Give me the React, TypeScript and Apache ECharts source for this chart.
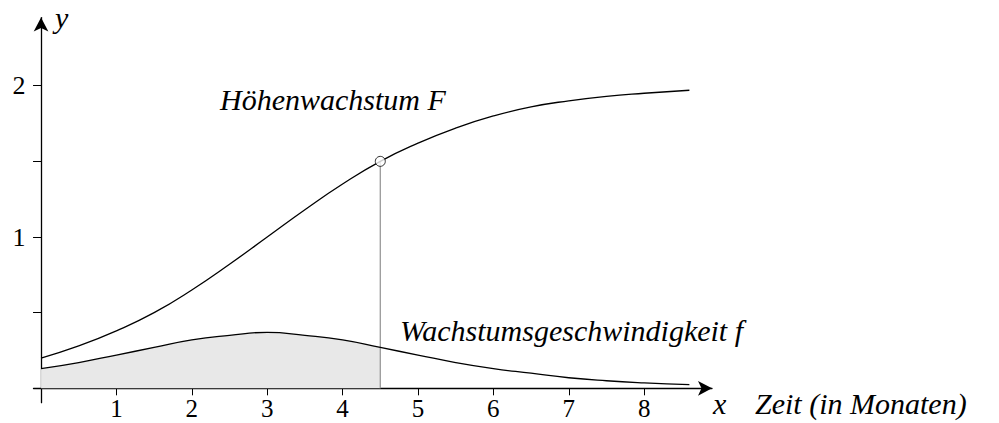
import React, { useEffect, useRef } from "react";
import * as echarts from "echarts";

// Months on the time axis at which both curves were read
const months = [0, 0.5, 1, 1.5, 2, 2.5, 3, 3.5, 4, 4.5, 5, 5.5, 6, 6.5, 7, 7.5, 8, 8.6];
// Height growth F (cumulative)
const heightGrowth = [0.2, 0.28, 0.38, 0.5, 0.65, 0.82, 1.0, 1.18, 1.35, 1.5, 1.62, 1.72, 1.8, 1.86, 1.9, 1.93, 1.95, 1.97];
// Growth speed f
const growthRate = [0.13, 0.17, 0.22, 0.27, 0.32, 0.35, 0.37, 0.35, 0.32, 0.27, 0.22, 0.17, 0.13, 0.1, 0.07, 0.05, 0.036, 0.024];
// Month up to which the area under f is shaded
const markedMonth = 4.5;

const xTickValues = [1, 2, 3, 4, 5, 6, 7, 8];
const yTickValues = [0.5, 1, 1.5, 2];
const yLabelValues = [1, 2];

const SERIF = "Liberation Serif";

const label = (text: string, left: number, top: number) => ({
  type: "text",
  left,
  top,
  style: {
    text,
    fontFamily: SERIF,
    fontStyle: "italic",
    fontSize: 30,
    fill: "#000",
  },
});

export default function App() {
  const ref = useRef<HTMLDivElement>(null);

  useEffect(() => {
    if (!ref.current) return;
    const chart = echarts.init(ref.current, null, { renderer: "svg" });

    const fLine = months.map((m, i) => [m, growthRate[i]]);
    const FLine = months.map((m, i) => [m, heightGrowth[i]]);
    const shaded = months
      .map((m, i) => [m, growthRate[i]])
      .filter((p) => p[0] <= markedMonth);
    const markedF = heightGrowth[months.indexOf(markedMonth)];

    chart.setOption({
      animation: false,
      grid: {
        left: 33.5,
        right: 287,
        top: 17.6,
        bottom: 20.3,
        containLabel: false,
        outerBoundsMode: "none",
      },
      xAxis: {
        type: "value",
        min: -0.1,
        max: 8.9,
        splitLine: { show: false },
        axisLine: {
          show: true,
          onZero: true,
          symbol: ["none", "arrow"],
          symbolSize: [11, 14],
          lineStyle: { color: "#000", width: 1.3 },
        },
        axisTick: {
          show: true,
          customValues: xTickValues,
          length: 7,
          lineStyle: { color: "#000", width: 1 },
        },
        axisLabel: {
          show: true,
          customValues: xTickValues,
          margin: -7,
          color: "#000",
          fontFamily: SERIF,
          fontSize: 25,
          lineHeight: 25,
        },
      },
      yAxis: {
        type: "value",
        min: -0.095,
        max: 2.45,
        splitLine: { show: false },
        axisLine: {
          show: true,
          onZero: true,
          symbol: ["none", "arrow"],
          symbolSize: [11, 14],
          lineStyle: { color: "#000", width: 1.3 },
        },
        axisTick: {
          show: true,
          customValues: yTickValues,
          length: 8,
          lineStyle: { color: "#000", width: 1 },
        },
        axisLabel: {
          show: true,
          customValues: yLabelValues,
          margin: 8,
          color: "#000",
          fontFamily: SERIF,
          fontSize: 26,
        },
      },
      series: [
        {
          type: "line",
          data: shaded,
          smooth: true,
          symbol: "none",
          lineStyle: { width: 0, opacity: 0 },
          areaStyle: { color: "#e8e8e8", opacity: 1 },
          z: 1,
        },
        {
          type: "line",
          data: fLine,
          smooth: true,
          symbol: "none",
          lineStyle: { color: "#000", width: 1.3 },
          z: 3,
        },
        {
          type: "line",
          data: FLine,
          smooth: true,
          symbol: "none",
          lineStyle: { color: "#000", width: 1.3 },
          z: 3,
        },
        {
          type: "line",
          data: [
            [markedMonth, 0],
            [markedMonth, markedF],
          ],
          symbol: "none",
          lineStyle: { color: "#999", width: 1.3 },
          z: 2,
        },
        {
          type: "scatter",
          data: [[markedMonth, markedF]],
          symbol: "circle",
          symbolSize: 10,
          itemStyle: { color: "#fff", borderColor: "#000", borderWidth: 1 },
          z: 5,
        },
      ],
      graphic: [
        label("y", 55, 2),
        label("Höhenwachstum F", 220, 84),
        label("Wachstumsgeschwindigkeit f", 400, 315),
        label("x", 713, 388),
        label("Zeit (in Monaten)", 755, 388),
      ],
    });

    return () => chart.dispose();
  }, []);

  return (
    <div
      ref={ref}
      style={{ position: "absolute", left: 0, top: 0, width: 999, height: 423, background: "#fff" }}
    />
  );
}
